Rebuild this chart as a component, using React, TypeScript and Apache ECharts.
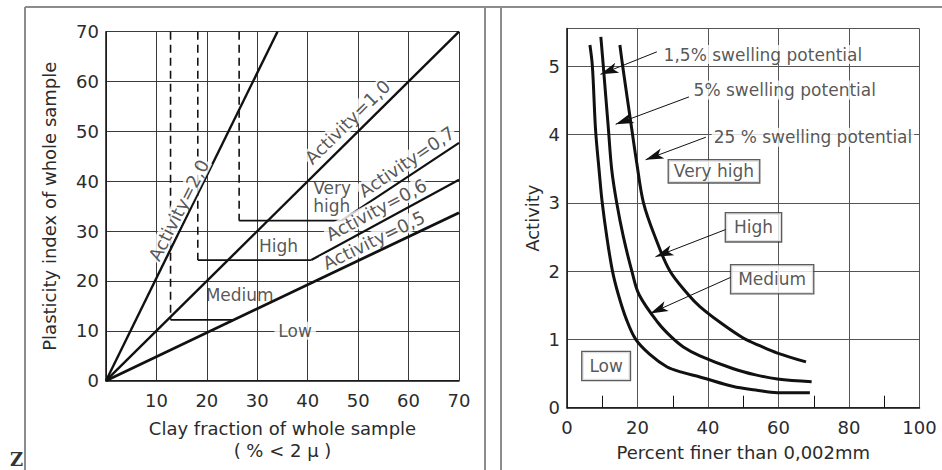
import React, { useEffect, useRef } from "react";
import * as echarts from "echarts";

// ---------- Left chart: plasticity index vs clay fraction ----------
const leftXTicks = [0, 10, 20, 30, 40, 50, 60, 70];
const leftYTicks = [0, 10, 20, 30, 40, 50, 60, 70];
const activity20 = [[0, 0], [34, 70]];
const activity10 = [[0, 0], [70, 70]];
const activity05 = [[0, 0], [70, 33.7]];
const activity06 = [[40.7, 24.2], [70, 40.3]];
const activity07 = [[46.7, 32.1], [70, 47.7]];
const stepLow = [[12.8, 12.2], [25.3, 12.2]];
const stepHigh = [[18.2, 24.2], [40.7, 24.2]];
const stepVeryHigh = [[26.4, 32.1], [46.7, 32.1]];
const dashedA = [[12.8, 70], [12.8, 12.2]];
const dashedB = [[18.2, 70], [18.2, 24.2]];
const dashedC = [[26.4, 70], [26.4, 32.1]];
const leftLineLabels = [
  { text: "Activity=2,0", pos: [14.4, 34.2], rot: 63 },
  { text: "Activity=1,0", pos: [47.9, 51.9], rot: 44.6 },
  { text: "Activity=0,7", pos: [59.6, 43.9], rot: 34 },
  { text: "Activity=0,6", pos: [53.6, 34.3], rot: 28 },
  { text: "Activity=0,5", pos: [53.1, 28.2], rot: 26 },
];
const leftZoneLabels = [
  { text: "Very\nhigh", pos: [41.0, 36.9], box: false, left: true },
  { text: "High", pos: [34.2, 27.1], box: false, left: false },
  { text: "Medium", pos: [26.5, 17.2], box: false, left: false },
  { text: "Low", pos: [37.5, 10.0], box: true, left: false },
];

// ---------- Right chart: activity vs percent finer ----------
const rightXTicks = [0, 20, 40, 60, 80, 100];
const rightYTicks = [0, 1, 2, 3, 4, 5];
const swell15 = [
  [6.5, 5.31], [7.2, 5.0], [8.1, 4.07], [9.1, 3.48], [10.0, 3.0], [11.3, 2.5],
  [12.9, 2.0], [14.6, 1.65], [16.8, 1.3], [19.5, 1.0], [23.5, 0.78], [28.3, 0.6],
  [32.5, 0.52], [37.7, 0.45], [47.2, 0.31], [53.5, 0.26], [59.7, 0.22], [68.9, 0.22],
];
const swell5 = [
  [9.6, 5.43], [10.3, 5.0], [11.7, 4.11], [12.7, 3.48], [14.1, 3.0], [16.0, 2.5],
  [18.4, 2.0], [20.5, 1.65], [25.9, 1.24], [29.5, 1.04], [33.0, 0.89], [37.7, 0.76],
  [47.2, 0.57], [53.5, 0.48], [59.7, 0.42], [69.4, 0.38],
];
const swell25 = [
  [15.0, 5.31], [15.8, 5.0], [18.4, 4.07], [19.8, 3.58], [21.7, 3.0], [25.0, 2.5],
  [29.2, 2.0], [34.5, 1.65], [37.7, 1.48], [43.4, 1.25], [50.0, 1.02], [55.0, 0.9],
  [59.7, 0.8], [67.8, 0.67],
];
const leaders = [
  [[25.5, 5.21], [9.5, 4.88]],
  [[34.6, 4.55], [13.8, 4.15]],
  [[39.4, 3.96], [22.3, 3.63]],
  [[45.1, 2.61], [25.1, 2.21]],
  [[46.5, 1.91], [23.6, 1.38]],
];
const swellLabels = [
  { text: "1,5% swelling potential", pos: [26.7, 5.17] },
  { text: "5% swelling potential", pos: [35.2, 4.65] },
  { text: "25 % swelling potential", pos: [40.9, 3.96] },
];
const boxLabels = [
  { text: "Very high", pos: [41.7, 3.46], pad: [2, 5] },
  { text: "High", pos: [52.9, 2.64], pad: [5, 8] },
  { text: "Medium", pos: [58.2, 1.88], pad: [5, 7] },
  { text: "Low", pos: [11.1, 0.61], pad: [5, 7] },
];

const FONT = "'DejaVu Sans', 'Liberation Sans', sans-serif";
const INK = "#111";
const TEXT = "#2b2b2b";

export default function App() {
  const ref = useRef<HTMLDivElement>(null);
  useEffect(() => {
    if (!ref.current) return;
    const chart = echarts.init(ref.current, null, { renderer: "svg" });

    const lineSeries = (data: number[][], width: number, idx: number, dashed = false, smooth: any = false) => ({
      type: "line",
      xAxisIndex: idx,
      yAxisIndex: idx,
      data,
      symbol: "none",
      smooth,
      silent: true,
      lineStyle: { color: INK, width, type: dashed ? [8, 5] : "solid" },
      z: 3,
    });

    const labelScatter = (idx: number, data: any[]) => ({
      type: "scatter",
      xAxisIndex: idx,
      yAxisIndex: idx,
      silent: true,
      symbolSize: 1,
      itemStyle: { color: "rgba(0,0,0,0)" },
      z: 6,
      data,
    });

    const axisCommon = {
      axisLine: { show: true, lineStyle: { color: INK, width: 1.5 } },
      axisTick: { show: false },
      nameTextStyle: { fontFamily: FONT, fontSize: 18, color: TEXT, lineHeight: 22 },
    };

    const option: any = {
      animation: false,
      backgroundColor: "#fff",
      textStyle: { fontFamily: FONT },
      grid: [
        { left: 106, top: 31.7, width: 353, height: 349 },
        { left: 567, top: 28.6, width: 352.5, height: 379.1 },
      ],
      xAxis: [
        {
          ...axisCommon,
          type: "value",
          gridIndex: 0,
          min: leftXTicks[0],
          max: leftXTicks[leftXTicks.length - 1],
          interval: 10,
          axisLabel: {
            fontSize: 18, color: TEXT, margin: 11, fontFamily: FONT,
            formatter: (v: number) => (v === 0 ? "" : String(v)),
          },
          splitLine: { show: true, lineStyle: { color: "#3a3a3a", width: 1 } },
          name: "Clay fraction of whole sample\n( % < 2 μ )",
          nameLocation: "middle",
          nameGap: 37,
        },
        {
          ...axisCommon,
          type: "value",
          gridIndex: 1,
          min: rightXTicks[0],
          max: rightXTicks[rightXTicks.length - 1],
          interval: 20,
          axisTick: { show: false, inside: true },
          minorTick: { show: true, splitNumber: 2, length: 12, lineStyle: { color: INK, width: 1 } },
          axisLabel: { fontSize: 18, color: TEXT, margin: 11, fontFamily: FONT },
          splitLine: { show: true, lineStyle: { color: "#555", width: 1 } },
          name: "Percent finer than 0,002mm",
          nameLocation: "middle",
          nameGap: 33,
        },
      ],
      yAxis: [
        {
          ...axisCommon,
          type: "value",
          gridIndex: 0,
          min: leftYTicks[0],
          max: leftYTicks[leftYTicks.length - 1],
          interval: 10,
          axisLabel: { fontSize: 18, color: TEXT, margin: 7, fontFamily: FONT },
          splitLine: { show: true, lineStyle: { color: "#3a3a3a", width: 1 } },
          name: "Plasticity index of whole sample",
          nameLocation: "middle",
          nameGap: 46,
        },
        {
          ...axisCommon,
          type: "value",
          gridIndex: 1,
          min: rightYTicks[0],
          max: 5.55,
          interval: 1,
          axisLabel: {
            fontSize: 18, color: TEXT, margin: 7, fontFamily: FONT,
            formatter: (v: number) => (rightYTicks.indexOf(v) >= 0 ? String(v) : ""),
          },
          splitLine: { show: true, lineStyle: { color: "#555", width: 1 } },
          name: "Activity",
          nameLocation: "middle",
          nameGap: 24,
        },
      ],
      series: [
        lineSeries(activity20, 2.4, 0),
        lineSeries(activity10, 2.4, 0),
        lineSeries(activity05, 2.8, 0),
        lineSeries(activity06, 2.2, 0),
        lineSeries(activity07, 2.2, 0),
        lineSeries(stepLow, 1.8, 0),
        lineSeries(stepHigh, 1.8, 0),
        lineSeries(stepVeryHigh, 1.8, 0),
        lineSeries(dashedA, 1.6, 0, true),
        lineSeries(dashedB, 1.6, 0, true),
        lineSeries(dashedC, 1.6, 0, true),
        labelScatter(
          0,
          leftLineLabels.map((l) => ({
            value: l.pos,
            label: {
              show: true,
              position: "inside",
              rotate: l.rot,
              formatter: l.text,
              fontSize: 18,
              color: TEXT,
              fontFamily: FONT,
              backgroundColor: "#fff",
              padding: [0, 1],
            },
          }))
        ),
        labelScatter(
          0,
          leftZoneLabels.map((l) => ({
            value: l.pos,
            label: {
              show: true,
              position: l.left ? "right" : "inside",
              distance: 0,
              align: l.left ? "left" : "center",
              formatter: l.text,
              fontSize: 17,
              lineHeight: 18,
              color: TEXT,
              fontFamily: FONT,
              backgroundColor: l.box ? "#fff" : "transparent",
              padding: l.box ? [0, 4] : 0,
            },
          }))
        ),
        lineSeries(swell15, 3, 1, false, 0.35),
        lineSeries(swell5, 3, 1, false, 0.35),
        lineSeries(swell25, 3, 1, false, 0.35),
        {
          type: "lines",
          coordinateSystem: "cartesian2d",
          xAxisIndex: 1,
          yAxisIndex: 1,
          silent: true,
          symbol: ["none", "arrow"],
          symbolSize: [1, [8, 18]],
          lineStyle: { color: INK, width: 1, opacity: 1 },
          z: 4,
          data: leaders.map((c) => ({ coords: c })),
        },
        labelScatter(
          1,
          swellLabels.map((l) => ({
            value: l.pos,
            label: {
              show: true,
              position: "right",
              distance: 0,
              formatter: l.text,
              fontSize: 17,
              color: TEXT,
              fontFamily: FONT,
              backgroundColor: "#fff",
              padding: [1, 2],
            },
          }))
        ),
        labelScatter(
          1,
          boxLabels.map((l) => ({
            value: l.pos,
            label: {
              show: true,
              position: "inside",
              formatter: l.text,
              fontSize: 17,
              lineHeight: 18,
              color: TEXT,
              fontFamily: FONT,
              backgroundColor: "#fff",
              borderColor: "#333",
              borderWidth: 1.3,
              padding: l.pad,
            },
          }))
        ),
      ],
      graphic: [
        { type: "line", shape: { x1: 25, y1: 7, x2: 942, y2: 7 }, style: { stroke: "#8c8c8c", lineWidth: 2 }, silent: true },
        { type: "line", shape: { x1: 25, y1: 7, x2: 25, y2: 470 }, style: { stroke: "#8c8c8c", lineWidth: 2 }, silent: true },
        { type: "line", shape: { x1: 485, y1: 7, x2: 485, y2: 470 }, style: { stroke: "#8c8c8c", lineWidth: 2 }, silent: true },
        { type: "line", shape: { x1: 501, y1: 7, x2: 501, y2: 470 }, style: { stroke: "#8c8c8c", lineWidth: 2 }, silent: true },
        { type: "text", left: 10, top: 450, style: { text: "Z", font: "bold 18px 'DejaVu Serif', serif", fill: "#333" }, silent: true },
      ],
    };

    chart.setOption(option);
    return () => chart.dispose();
  }, []);

  return (
    <div
      ref={ref}
      style={{ position: "absolute", left: 0, top: 0, width: 942, height: 470, background: "#fff" }}
    />
  );
}
